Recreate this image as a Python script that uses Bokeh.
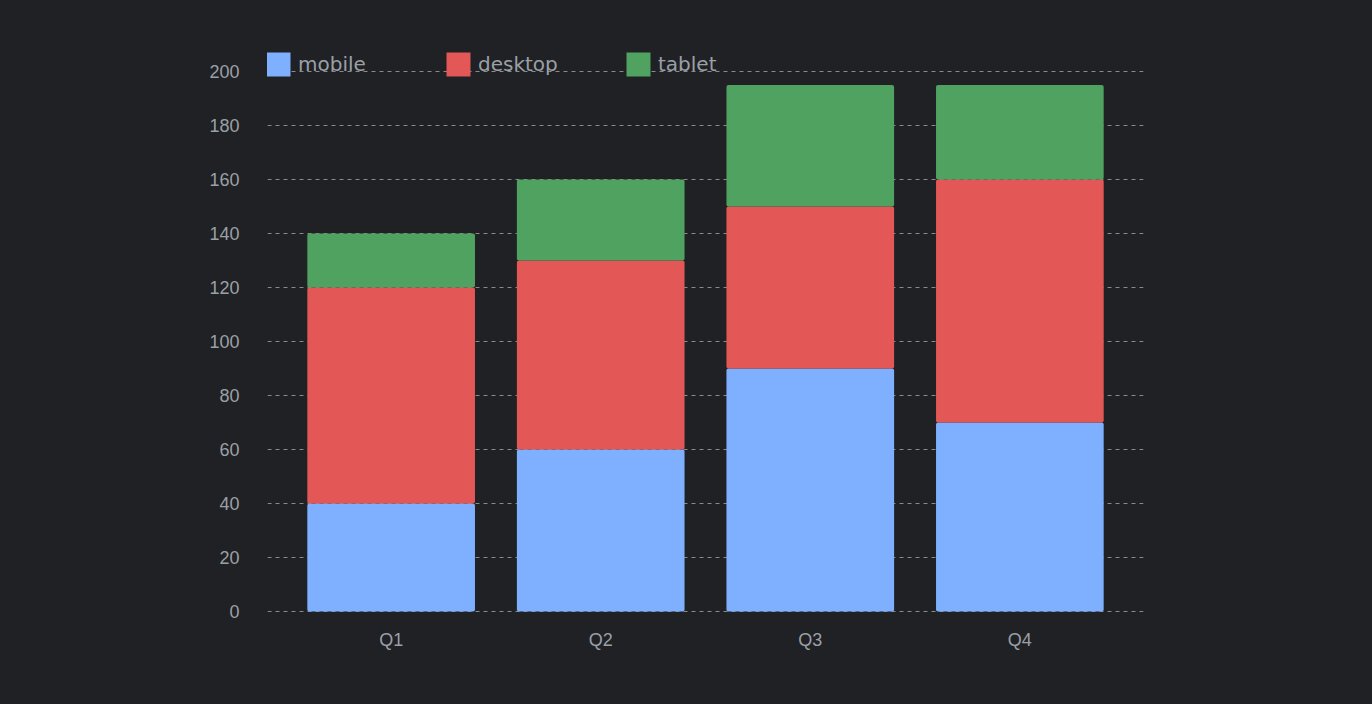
from bokeh.plotting import figure
from bokeh.models import ColumnDataSource, FactorRange, Range1d, Legend, LegendItem, FixedTicker
from bokeh.embed import file_html
from bokeh.resources import INLINE

quarters = ["Q1", "Q2", "Q3", "Q4"]
mobile = [40, 60, 90, 70]
desktop = [80, 70, 60, 90]
tablet = [20, 30, 45, 35]
series = ["mobile", "desktop", "tablet"]
colors = ["#7EB0FF", "#E35757", "#50A260"]
y_ticks = [0, 20, 40, 60, 80, 100, 120, 140, 160, 180, 200]

BG = "#202125"
TXT = "#9AA0A6"

source = ColumnDataSource(dict(quarter=quarters, mobile=mobile, desktop=desktop, tablet=tablet))

p = figure(width=1372, height=704, output_backend="svg", toolbar_location=None,
           x_range=FactorRange(*quarters, range_padding=0.045),
           y_range=Range1d(-0.4, 209.26),
           min_border_left=267, min_border_right=229, min_border_top=46, min_border_bottom=92)
p.styles = {"background-color": BG}
p.background_fill_alpha = 0
p.border_fill_alpha = 0
p.outline_line_color = None

renderers = p.vbar_stack(series, x="quarter", width=0.8, source=source, fill_color=colors,
                         line_color=None, border_radius=2)

p.xgrid.grid_line_color = None
p.ygrid.grid_line_color = "#8A8A8A"
p.ygrid.grid_line_dash = "4 4"
p.ygrid.grid_line_width = 1
p.yaxis.ticker = FixedTicker(ticks=y_ticks)

for ax in (p.xaxis[0], p.yaxis[0]):
    ax.axis_line_color = None
    ax.major_tick_line_color = None
    ax.minor_tick_line_color = None
    ax.major_label_text_color = TXT
    ax.major_label_text_font = "Liberation Sans"
    ax.major_label_text_font_size = "18px"
p.yaxis.major_label_standoff = 22
p.xaxis.major_label_standoff = 11

legend = Legend(items=[LegendItem(label=s, renderers=[r]) for s, r in zip(series, renderers)],
                orientation="horizontal", location=(-4, 533),
                glyph_width=30, glyph_height=30, label_standoff=5, spacing=0,
                label_width=145, padding=0, margin=0,
                background_fill_alpha=0, border_line_color=None,
                label_text_color=TXT, label_text_font="DejaVu Sans", label_text_font_size="20px")
p.add_layout(legend, "center")

open("out.html", "w").write(file_html(p, INLINE))
